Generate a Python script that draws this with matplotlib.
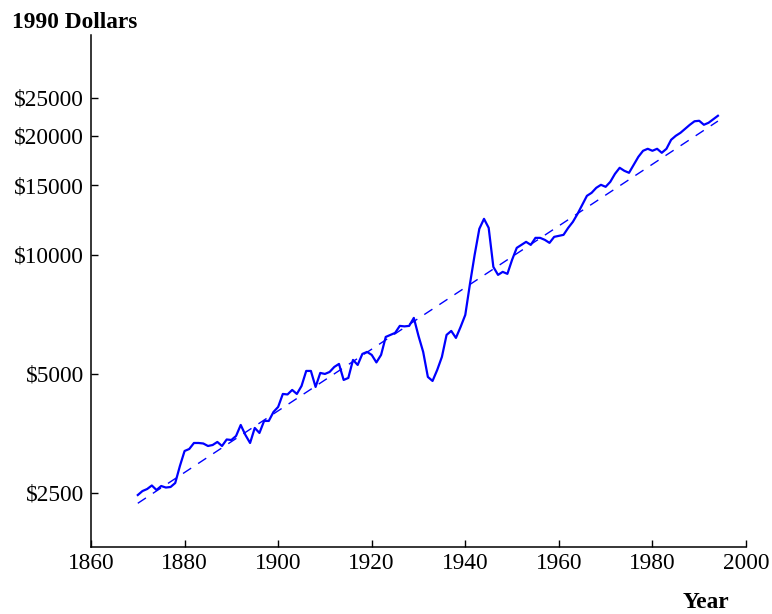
import numpy as np
import matplotlib
matplotlib.use("Agg")
import matplotlib.pyplot as plt
from matplotlib.ticker import FixedLocator, NullLocator

# GDP per capita, 1990 dollars
years = list(range(1870, 1995))
gdp = [
    2468, 2526, 2556, 2609, 2541, 2601, 2578, 2586, 2647, 2923,  # 1870s
    3190, 3227, 3342, 3342, 3332, 3284, 3303, 3362, 3284, 3411,  # 1880s
    3401, 3481, 3712, 3502, 3342, 3648, 3543, 3800, 3800, 4004,  # 1890s
    4123, 4447, 4434, 4552, 4447, 4659, 5085, 5085, 4632, 5026,  # 1900s
    4997, 5055, 5205, 5297, 4825, 4882, 5422, 5266, 5615, 5681,  # 1910s
    5583, 5344, 5583, 6200, 6273, 6347, 6611, 6592, 6611, 6926,  # 1920s
    6236, 5681, 4911, 4797, 5115, 5518, 6273, 6420, 6164, 6573,  # 1930s
    7048, 8445, 10000, 11637, 12335, 11705, 9324, 8899, 9057, 8952,  # 1940s
    9713, 10416, 10600, 10787, 10600, 11041, 11041, 10913, 10724, 11106,  # 1950s
    11171, 11237, 11705, 12121, 12700, 13384, 14105, 14354, 14779, 15039,  # 1960s
    14865, 15305, 16035, 16607, 16318, 16129, 16900, 17707, 18337, 18552,  # 1970s
    18337, 18552, 18124, 18552, 19550, 20012, 20365, 20845, 21338, 21778,  # 1980s
    21841, 21338, 21587, 22032, 22487,  # 1990s
]

# log-linear trend line endpoints
trend_years = [1870, 1994]
trend_values = [2352, 21800]

ytick_values = [2500, 5000, 10000, 15000, 20000, 25000]
ytick_labels = ["$2500", "$5000", "$10000", "$15000", "$20000", "$25000"]
xtick_values = [1860, 1880, 1900, 1920, 1940, 1960, 1980, 2000]

plt.rcParams["font.family"] = ["Liberation Serif", "DejaVu Serif"]
plt.rcParams["font.size"] = 16.8

fig = plt.figure(figsize=(7.72, 6.14), dpi=100)
ax = fig.add_axes([0.1179, 0.1091, 0.9663 - 0.1179, 0.943 - 0.1091])

ax.plot(years, gdp, color="#0000ff", lw=1.6, solid_joinstyle="round")
ax.plot(trend_years, trend_values, color="#0000ff", lw=1.0, dashes=(7, 6))

ax.set_yscale("log")
ax.set_xlim(1860, 2000)
ax.set_ylim(1823, 36000)

ax.yaxis.set_major_locator(FixedLocator(ytick_values))
ax.yaxis.set_minor_locator(NullLocator())
ax.set_yticklabels(ytick_labels)
ax.set_xticks(xtick_values)
ax.set_xticklabels([str(v) for v in xtick_values])

for side in ["top", "right"]:
    ax.spines[side].set_visible(False)
for side in ["left", "bottom"]:
    ax.spines[side].set_linewidth(1.1)

ax.tick_params(axis="both", direction="in", length=5, width=1.0, colors="black")
ax.tick_params(axis="y", pad=5)
ax.tick_params(axis="x", pad=4)

fig.text(12 / 772, 1 - 27.5 / 614, "1990 Dollars", fontweight="bold",
         ha="left", va="baseline")
fig.text(683 / 772, 1 - 608 / 614, "Year", fontweight="bold",
         ha="left", va="baseline")

fig.savefig("out.png", dpi=100)
